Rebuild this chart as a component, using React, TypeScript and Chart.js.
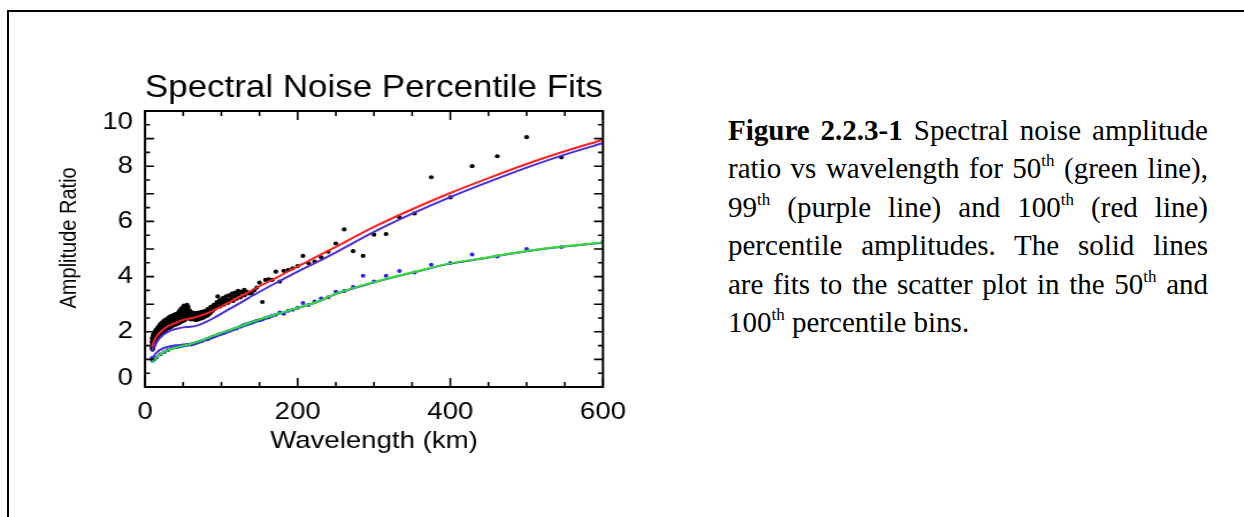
import React, { useEffect, useRef } from "react";
import { Chart, registerables } from "chart.js";

Chart.register(...registerables);

// ---------- data ----------
const chartTitle = "Spectral Noise Percentile Fits";
const xAxisTitle = "Wavelength (km)";
const yAxisTitle = "Amplitude Ratio";
const xTickLabels = [0, 200, 400, 600];
const yTickLabels = [0, 2, 4, 6, 8, 10];
const xTickMarks = [0, 50, 100, 150, 200, 250, 300, 350, 400, 450, 500, 550, 600];
const yTickMarks = [0, 0.5, 1, 1.5, 2, 2.5, 3, 3.5, 4, 4.5, 5, 5.5, 6, 6.5, 7, 7.5, 8, 8.5, 9, 9.5, 10];

const fitWavelength = [9, 12, 16, 22, 30, 40, 50, 60, 70, 80, 90, 100, 125, 150, 175, 200, 225, 250, 300, 350, 400, 450, 500, 550, 600];
const fit100th = [1.45, 1.68, 1.86, 2.04, 2.2, 2.32, 2.43, 2.49, 2.56, 2.66, 2.78, 2.92, 3.28, 3.65, 4.0, 4.37, 4.72, 5.08, 5.8, 6.44, 7.03, 7.57, 8.08, 8.54, 8.96];
const fit99th = [1.3, 1.48, 1.65, 1.85, 2.0, 2.1, 2.16, 2.18, 2.24, 2.36, 2.5, 2.66, 3.05, 3.45, 3.82, 4.18, 4.52, 4.88, 5.62, 6.28, 6.88, 7.43, 7.95, 8.42, 8.84];
const fit50th = [0.88, 0.98, 1.1, 1.22, 1.33, 1.43, 1.5, 1.56, 1.65, 1.75, 1.86, 1.96, 2.2, 2.45, 2.66, 2.87, 3.08, 3.38, 3.8, 4.15, 4.48, 4.7, 4.93, 5.1, 5.24];
const fit99thLow = [1.02, 1.14, 1.27, 1.38, 1.46, 1.51, 1.53, 1.56, 1.64, 1.74, 1.85, 1.95, 2.19, 2.44, 2.65, 2.86, 3.07, 3.37, 3.79, 4.14, 4.47, 4.69, 4.92, 5.09, 5.23];

const pts100X = [545.5, 500, 461.5, 428.6, 400, 375, 353, 333.3, 315.8, 300, 285.7, 272.7, 260.9, 250, 240, 230.8, 222.2, 214.3, 206.9, 200, 193.5, 187.5, 181.8, 176.5, 171.4, 166.7, 162.2, 157.9, 153.8, 150, 146.3, 142.9, 139.5, 136.4,
  133.3, 130.4, 127.7, 125, 122.4, 120, 117.6, 115.4, 113.2, 111.1, 109.1, 107.1, 105.3, 103.4, 101.7, 100, 98.4, 96.8, 95.2, 93.8, 92.3, 90.9, 89.6, 88.2, 87, 85.7, 84.5, 83.3, 82.2, 81.1, 80, 78.9, 77.9, 76.9, 75.9, 75, 74.1, 73.2, 72.3, 71.4, 70.6, 69.8, 69, 68.2, 67.4, 66.7, 65.9, 65.2, 64.5, 63.8, 63.2, 62.5, 61.9, 61.2, 60.6, 60, 59.4, 58.8, 58.3, 57.7, 57.1, 56.6, 56.1, 55.6, 55, 54.5, 54.1, 53.6, 53.1, 52.6, 52.2, 51.7, 51.3, 50.8, 50.4, 50, 49.2, 48.4, 47.6, 46.9, 46.2, 45.5, 44.8, 44.1, 43.5, 42.9, 42.3, 41.7, 41.1, 40.5, 40, 39.2, 38.5, 37.7, 37, 36.4, 35.7, 35.1, 34.5, 33.9, 33.3, 32.8, 32.3, 31.7, 31.3, 30.8, 30.3, 30, 29.3, 28.6, 27.9, 27.3, 26.7, 26.1, 25.5, 25, 24.5, 24, 23.4, 23.1, 22.6, 22.2, 21.7, 21.4, 20.9, 20.7, 20.3, 20, 19.4, 18.8, 18.2, 17.6, 17.1, 16.7, 16.2, 15.8, 15.4, 15, 14.6, 14.3, 13.9, 13.6, 13.3, 13, 12.8, 12.5, 12.2, 12, 11.8, 11.5, 11.3, 11.1, 10.9, 10.7, 10.5, 10.3, 10.2, 10, 9.8, 9.7, 9.5, 9.3, 9.2,
  9.5, 10, 10.5, 11, 11.5, 12, 13, 14, 15, 16, 17, 18, 19, 20, 21, 22, 23, 24, 25, 26, 27, 28, 29, 30, 31, 32, 33, 34, 35, 36, 37, 38, 39, 40, 41, 42, 43, 44, 45, 46, 47, 48, 49, 50, 51, 52, 53, 54, 56, 58, 62, 66, 70, 74, 78, 82, 86, 90, 94, 98, 102, 106, 110, 114, 118, 122, 126, 130];
const pts100Y = [8.32, 9.05, 8.36, 8.0, 6.87, 7.6, 6.29, 6.15, 5.54, 5.52, 4.75, 4.92, 5.71, 5.2, 4.9, 4.7, 4.54, 4.48, 4.75, 4.38, 4.3, 4.24, 4.21, 3.82, 4.18, 3.88, 3.9, 3.88, 3.08, 3.78, 3.6, 3.5, 3.39, 3.39,
  3.45, 3.32, 3.42, 3.25, 3.35, 3.2, 3.28, 3.12, 3.25, 3.15, 3.05, 3.18, 3.08, 2.98, 3.1, 3.02, 2.92, 3.05, 3.28, 2.9, 2.98, 2.82, 2.9, 2.75, 2.85, 2.68, 2.78, 2.62, 2.72, 2.58, 2.68, 2.55, 2.65, 2.52, 2.62, 2.5, 2.6, 2.48, 2.58, 2.5, 2.62, 2.45, 2.55, 2.5, 2.6, 2.42, 2.55, 2.48, 2.58, 2.45, 2.52, 2.62, 2.48, 2.55, 2.7, 2.45, 2.6, 2.52, 2.78, 2.48, 2.65, 2.9, 2.55, 2.75, 2.98, 2.6, 2.82, 2.5, 2.7, 2.45, 2.62, 2.42, 2.55, 2.68, 2.4, 2.5, 2.58, 2.38, 2.62, 2.45, 2.35, 2.55, 2.4, 2.3, 2.5, 2.35, 2.58, 2.28, 2.42, 2.3, 2.5, 2.25, 2.45, 2.35, 2.52, 2.22, 2.4, 2.3, 2.18, 2.38, 2.25, 2.45, 2.15, 2.32, 2.22, 2.4, 2.12, 2.28, 2.2, 2.35, 2.1, 2.25, 2.05, 2.3, 2.15, 2.0, 2.22, 2.1, 2.28, 1.98, 2.15, 2.05, 1.92, 2.2, 2.0, 1.88, 2.1, 1.95, 2.05, 1.85, 2.0, 1.9, 2.08, 1.8, 1.95, 1.75, 1.9, 1.82, 1.98, 1.7, 1.88, 1.65, 1.8, 1.95, 1.6, 1.75, 1.88, 1.55, 1.7, 1.82, 1.5, 1.65, 1.78, 1.45, 1.6, 1.72, 1.4, 1.55, 1.68, 1.35, 1.5, 1.62, 1.42,
  1.75, 1.8, 1.85, 1.9, 1.88, 1.95, 2.0, 2.05, 2.08, 2.12, 2.15, 2.2, 2.18, 2.28, 2.25, 2.32, 2.3, 2.38, 2.35, 2.42, 2.38, 2.45, 2.4, 2.48, 2.52, 2.45, 2.55, 2.5, 2.58, 2.52, 2.6, 2.55, 2.62, 2.58, 2.65, 2.6, 2.68, 2.62, 2.75, 2.68, 2.82, 2.72, 2.88, 2.78, 2.95, 2.85, 2.92, 2.75, 2.7, 2.65, 2.7, 2.68, 2.7, 2.72, 2.75, 2.82, 2.9, 2.98, 3.08, 3.15, 3.22, 3.28, 3.32, 3.38, 3.42, 3.48, 3.45, 3.52];

const pts50X = [600, 545.5, 500, 461.5, 428.6, 400, 375, 353, 333.3, 315.8, 300, 285.7, 272.7, 260.9, 250, 240, 230.8, 222.2, 214.3, 206.9, 200, 193.5, 187.5, 181.8, 176.5, 171.4, 166.7, 162.2, 157.9, 153.8, 150, 146.3, 142.9, 139.5, 136.4, 133.3, 130.4, 127.7, 125, 120, 115.4, 111.1, 107.1, 103.4, 100, 96.8, 93.8, 90.9, 88.2, 85.7, 83.3, 80, 75, 70.6, 66.7, 63.2, 60, 55, 50, 46.2, 42.9, 40, 35.3, 30, 25, 20, 15, 12, 10, 9.2, 9.5];
const pts50Y = [5.25, 5.07, 5.0, 4.73, 4.8, 4.49, 4.43, 4.15, 4.2, 4.03, 3.82, 4.03, 3.62, 3.48, 3.45, 3.25, 3.21, 3.1, 2.97, 3.04, 2.87, 2.8, 2.76, 2.65, 2.7, 2.62, 2.58, 2.53, 2.5, 2.45, 2.42, 2.4, 2.36, 2.33, 2.3, 2.27, 2.25, 2.22, 2.18, 2.12, 2.08, 2.04, 2.0, 1.96, 1.93, 1.9, 1.87, 1.84, 1.81, 1.78, 1.75, 1.72, 1.67, 1.63, 1.59, 1.56, 1.54, 1.52, 1.5, 1.48, 1.46, 1.44, 1.4, 1.33, 1.26, 1.18, 1.07, 1.0, 0.95, 1.05, 0.98];

// ---------- helpers ----------
const toXY = (xs: number[], ys: number[]) => xs.map((x, i) => ({ x, y: ys[i] }));

const STRETCH = 1.15;

const boxTicksPlugin = {
  id: "boxTicks",
  afterDatasetsDraw(chart: any) {
    const { ctx, chartArea: a, scales } = chart;
    const xs = scales.x;
    const ys = scales.y;
    ctx.save();
    ctx.strokeStyle = "#000";
    ctx.lineWidth = 1.6;
    ctx.beginPath();
    for (const v of xTickMarks) {
      const px = xs.getPixelForValue(v);
      const len = xTickLabels.includes(v) ? 9 : 5;
      ctx.moveTo(px, a.bottom);
      ctx.lineTo(px, a.bottom - len);
      ctx.moveTo(px, a.top);
      ctx.lineTo(px, a.top + len);
    }
    for (const v of yTickMarks) {
      const py = ys.getPixelForValue(v);
      const len = Number.isInteger(v) ? 9 / STRETCH : 5 / STRETCH;
      ctx.moveTo(a.left, py);
      ctx.lineTo(a.left + len, py);
      ctx.moveTo(a.right, py);
      ctx.lineTo(a.right - len, py);
    }
    ctx.stroke();
    ctx.lineWidth = 2;
    ctx.strokeRect(a.left, a.top, a.right - a.left, a.bottom - a.top);
    ctx.restore();
  },
};

function PlotChart() {
  const ref = useRef<HTMLCanvasElement | null>(null);
  useEffect(() => {
    if (!ref.current) return;
    Chart.defaults.font.family = "'Liberation Sans', Arial, sans-serif";
    Chart.defaults.color = "#000";
    const lineDs = (label: string, ys: number[], color: string) => ({
      type: "line" as const,
      label,
      data: toXY(fitWavelength, ys),
      borderColor: color,
      backgroundColor: color,
      borderWidth: 2,
      pointRadius: 0,
      cubicInterpolationMode: "monotone" as const,
      fill: false,
    });
    const chart = new Chart(ref.current, {
      type: "scatter",
      data: {
        datasets: [
          lineDs("50th fit", fit50th, "#30e030"),
          lineDs("99th low", fit99thLow, "#4a2de0"),
          lineDs("100th fit", fit100th, "#ff2020"),
          lineDs("99th fit", fit99th, "#4a2de0"),
          {
            type: "scatter",
            label: "100th percentile",
            data: toXY(pts100X, pts100Y),
            backgroundColor: "#000",
            borderWidth: 0,
            pointRadius: 2.1,
          },
          {
            type: "scatter",
            label: "50th percentile",
            data: toXY(pts50X, pts50Y),
            backgroundColor: "#2a22f0",
            borderWidth: 0,
            pointRadius: 2.0,
          },
        ] as any,
      },
      plugins: [boxTicksPlugin],
      options: {
        animation: false,
        responsive: false,
        devicePixelRatio: 1,
        layout: { padding: { left: 42, top: 70, right: 55.7, bottom: 10.6 } },
        plugins: {
          legend: { display: false },
          tooltip: { enabled: false },
          title: {
            display: true,
            fullSize: false,
            text: chartTitle,
            color: "#000",
            font: { size: 30.5, weight: "normal" },
            padding: { top: 0, bottom: 4.4 },
          },
        },
        scales: {
          x: {
            type: "linear",
            min: 0,
            max: 600,
            afterFit: (s: any) => {
              s.height = 72.4;
            },
            afterBuildTicks: (s: any) => {
              s.ticks = xTickLabels.map((v) => ({ value: v }));
            },
            grid: { display: false, drawTicks: false },
            border: { display: false },
            ticks: { font: { size: 24 }, padding: 11, color: "#000", maxRotation: 0 },
            title: { display: true, text: xAxisTitle, font: { size: 24 }, color: "#000", padding: { top: 4, bottom: 4 } },
          },
          y: {
            type: "linear",
            min: 0,
            max: 10,
            afterFit: (s: any) => {
              s.width = 84.1;
            },
            afterBuildTicks: (s: any) => {
              s.ticks = yTickLabels.map((v) => ({ value: v }));
            },
            grid: { display: false, drawTicks: false },
            border: { display: false },
            ticks: {
              font: (c: any) => ({ size: 24, lineHeight: c.tick && c.tick.value === 0 ? 0.7 : 0.95 }),
              padding: 10.4,
              color: "#000",
              callback: (v: any) => (v === 10 ? ["", "10"] : v === 0 ? ["0", ""] : String(v)),
            },
            title: { display: true, text: "    " + yAxisTitle, font: { size: 20 }, color: "#000", padding: { top: 6, bottom: 4 } },
          },
        },
      } as any,
    });
    return () => chart.destroy();
  }, []);
  return (
    <canvas
      ref={ref}
      width={580}
      height={470}
      style={{ position: "absolute", left: 0, top: 0, transform: `scaleX(${STRETCH})`, transformOrigin: "0 0" }}
    />
  );
}

const supStyle: React.CSSProperties = { fontSize: 17, position: "relative", top: -12, verticalAlign: "baseline", lineHeight: 0 };
const lineJ: React.CSSProperties = { textAlign: "justify", textAlignLast: "justify" as any, whiteSpace: "normal" };

function Caption() {
  return (
    <div
      style={{
        position: "absolute",
        left: 728,
        top: 110.5,
        width: 480,
        fontFamily: "'Liberation Serif', 'Times New Roman', serif",
        fontSize: 29,
        lineHeight: "38.5px",
        color: "#000",
      }}
    >
      <div style={lineJ}>
        <b>Figure 2.2.3-1</b> Spectral noise amplitude
      </div>
      <div style={lineJ}>
        ratio vs wavelength for 50<span style={supStyle}>th</span> (green line),
      </div>
      <div style={lineJ}>
        99<span style={supStyle}>th</span> (purple line) and 100<span style={supStyle}>th</span> (red line)
      </div>
      <div style={lineJ}>percentile amplitudes. The solid lines</div>
      <div style={lineJ}>
        are fits to the scatter plot in the 50<span style={supStyle}>th</span> and
      </div>
      <div style={{ textAlign: "left" }}>
        100<span style={supStyle}>th</span> percentile bins.
      </div>
    </div>
  );
}

export default function App() {
  return (
    <div style={{ position: "absolute", left: 0, top: 0, width: 1244, height: 517, overflow: "hidden", background: "#fff" }}>
      <div
        style={{
          position: "absolute",
          left: 7,
          top: 10,
          width: 1400,
          height: 700,
          borderTop: "2px solid #000",
          borderLeft: "2px solid #000",
        }}
      />
      <PlotChart />
      <Caption />
    </div>
  );
}
